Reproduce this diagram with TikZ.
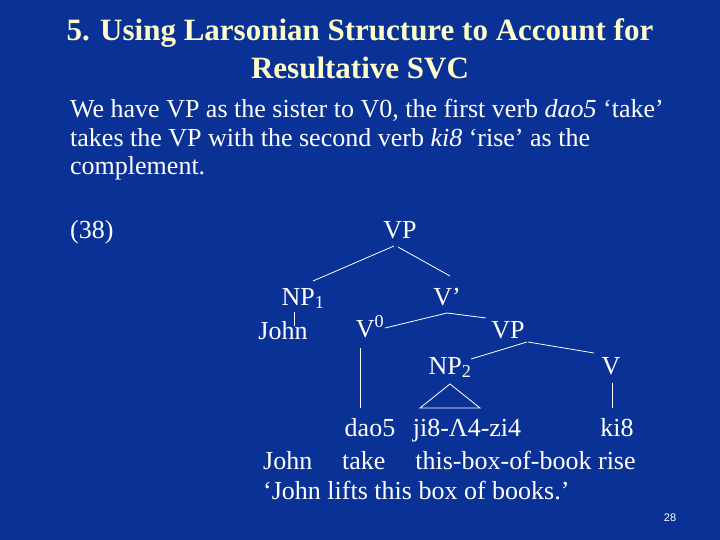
\documentclass[tikz,border=0pt]{standalone}
\usepackage{fontspec}
\setmainfont{Liberation Serif}
\newfontfamily\pgfont{Liberation Sans}
\definecolor{bg}{RGB}{10,50,150}
\definecolor{ttl}{RGB}{255,255,204}
\begin{document}
\begin{tikzpicture}[x=1pt,y=-1pt,
  lab/.style={text=white,font=\fontsize{26}{28}\selectfont,inner sep=0pt,text height=17pt,text depth=5pt},
  br/.style={white,line width=0.8pt}]
\fill[bg] (0,0) rectangle (720,540);
\useasboundingbox (0,0) rectangle (720,540);
\node[text=ttl,font=\bfseries\fontsize{31}{38}\selectfont,align=center] (title) at (360,49) {5. Using Larsonian Structure to Account for\\Resultative SVC};
\node[text=white,anchor=west,align=left,font=\fontsize{26}{28.5}\selectfont,inner sep=0pt] (body) at (70,140) {We have VP as the sister to V0, the first verb \textit{dao5} ‘take’\\takes the VP with the second verb \textit{ki8} ‘rise’ as the\\complement.};
\node[lab,anchor=west] (ex) at (70,233) {(38)};
\node[lab] (vp) at (400,233) {VP};
\node[lab] (np1) at (303,299) {NP\textsubscript{1}};
\node[lab] (john) at (283,333) {John};
\node[lab] (vb) at (447,299) {V’};
\node[lab] (v0) at (370,331) {V\textsuperscript{0}};
\node[lab] (vp2) at (508,332) {VP};
\node[lab] (np2) at (450,368) {NP\textsubscript{2}};
\node[lab] (v) at (611,368) {V};
\node[lab] (dao) at (370,430) {dao5};
\node[lab] (ji) at (467,430) {ji8-Λ4-zi4};
\node[lab] (ki) at (617,430) {ki8};
\node[lab,anchor=west] (gl) at (263,463) {John\hspace{0.9em} take\hspace{0.9em} this-box-of-book rise};
\node[lab,anchor=west] (tr) at (263,493) {‘John lifts this box of books.’};
\node[text=white,font=\pgfont\fontsize{11}{12}\selectfont] (pg) at (670,518) {28};
\draw[br] (394,246) -- (313,281);
\draw[br] (398,247) -- (450,276);
\draw[br] (294,312) -- (294,326);
\draw[br] (447,313) -- (385,328);
\draw[br] (447,313) -- (486,318);
\draw[br] (527,342) -- (471,359);
\draw[br] (528,342) -- (594,353);
\draw[br] (450,384) -- (420,408) -- (480,408) -- cycle;
\draw[br] (360,348) -- (360,408);
\draw[br] (612,383) -- (612,408);
\end{tikzpicture}
\end{document}
